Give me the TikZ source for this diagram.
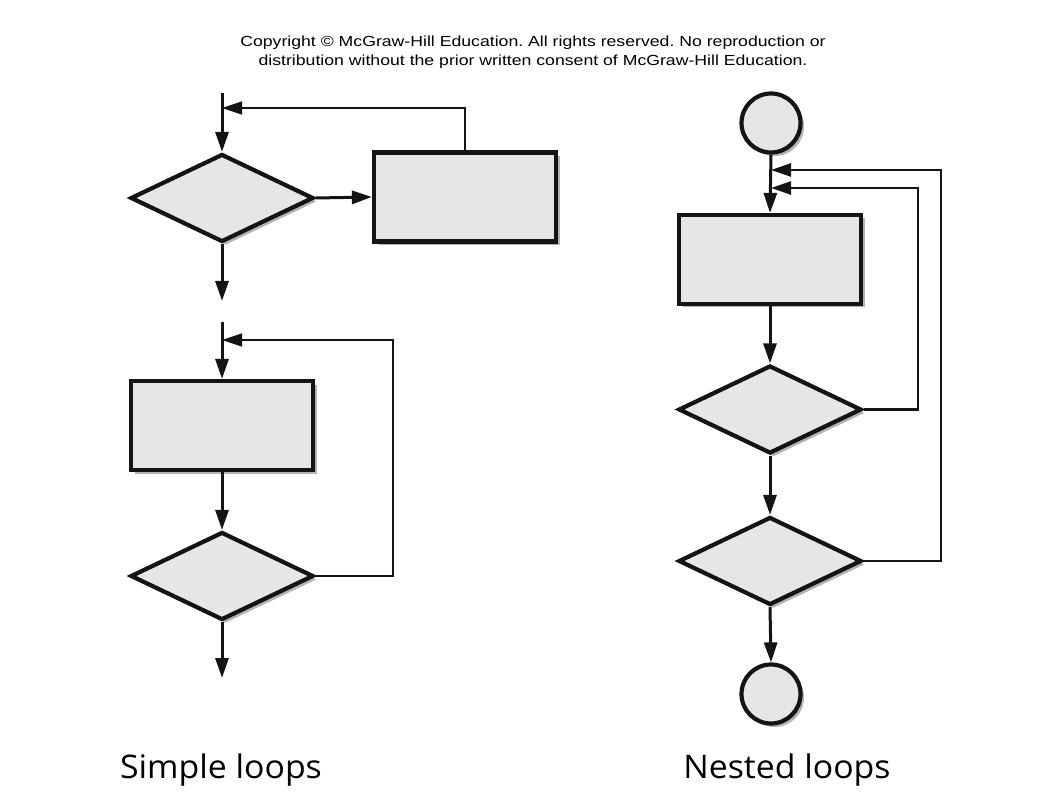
\documentclass[tikz,border=0pt]{standalone}
\usepackage{fontspec}
\setmainfont{Liberation Sans}
\newfontfamily\copyfont[FakeStretch=1.21]{Liberation Sans}
\newfontfamily\labelfont[FakeStretch=1.04]{Open Sans}
\usetikzlibrary{shapes.geometric,arrows.meta,shadows}
\definecolor{boxfill}{HTML}{E6E6E6}
\frenchspacing
\begin{document}
\begin{tikzpicture}[x=1pt,y=-1pt,
  shp/.style={draw=black!92, line width=4.2pt, fill=boxfill, inner sep=0pt, line join=miter,
    drop shadow={shadow xshift=3.5pt, shadow yshift=-3.5pt, fill=black!50, opacity=0.6}},
  procbox/.style={shp, rectangle, minimum width=182pt, minimum height=89pt},
  decide/.style={shp, diamond, minimum width=183pt, minimum height=88pt},
  term/.style={shp, circle, minimum size=59pt},
  flow/.style={line width=3pt, draw=black!92, -{Triangle[length=20pt,width=13pt]}},
  fbthin/.style={line width=1.9pt, draw=black!92, -{Triangle[length=20pt,width=13pt]}},
  fbmid/.style={line width=2.6pt, draw=black!92, -{Triangle[length=20pt,width=13pt]}},
  lbl/.style={font=\labelfont\fontsize{32.5}{38}\selectfont, inner sep=0pt, anchor=base},
  copy/.style={font=\copyfont\fontsize{14.6}{19}\selectfont, align=center, inner sep=0pt}]
\useasboundingbox (0,0) rectangle (1060,810);

\node[copy] (cpy) at (533,52) {Copyright \textcopyright{} McGraw-Hill Education. All rights reserved. No reproduction or\\distribution without the prior written consent of McGraw-Hill Education.};

% ---- Simple loops, top ----
\coordinate (t1) at (222,93);
\coordinate (j1) at (222,108);
\coordinate (e1) at (222,301);
\node[decide] (d1) at (222,198) {};
\node[procbox] (b1) at (465,197) {};
\draw[flow] (t1) -- (d1.north);
\draw[flow] (d1.east) -- (b1.west);
\draw[flow] (d1.south) -- (e1);
\draw[fbthin] (b1.north) |- (j1);

% ---- Simple loops, bottom ----
\coordinate (t2) at (222,322);
\coordinate (j2) at (222,340);
\coordinate (k2) at (393,340);
\coordinate (e2) at (222,678);
\node[procbox] (b2) at (222,425.5) {};
\node[decide] (d2) at (222,576) {};
\draw[flow] (t2) -- (b2.north);
\draw[flow] (b2.south) -- (d2.north);
\draw[flow] (d2.south) -- (e2);
\draw[fbthin] (d2.east) -| (k2) -- (j2);

% ---- Nested loops ----
\node[term] (c1) at (771,123) {};
\node[procbox] (r1) at (770,259.5) {};
\node[decide] (dA) at (770,409.5) {};
\node[decide] (dB) at (770,561) {};
\node[term] (c2) at (771,694) {};
\coordinate (ja) at (771,170);
\coordinate (jb) at (771,188);
\coordinate (ka) at (941,170);
\coordinate (kb) at (918,188);
\draw[flow] (c1.south) -- (r1.north);
\draw[flow] (r1.south) -- (dA.north);
\draw[flow] (dA.south) -- (dB.north);
\draw[flow] (dB.south) -- (c2.north);
\draw[fbmid] (dA.east) -| (kb) -- (jb);
\draw[fbmid] (dB.east) -| (ka) -- (ja);

% ---- Captions ----
\node[lbl] (cap1) at (221,778) {Simple loops};
\node[lbl] (cap2) at (787,778) {Nested loops};
\end{tikzpicture}
\end{document}
